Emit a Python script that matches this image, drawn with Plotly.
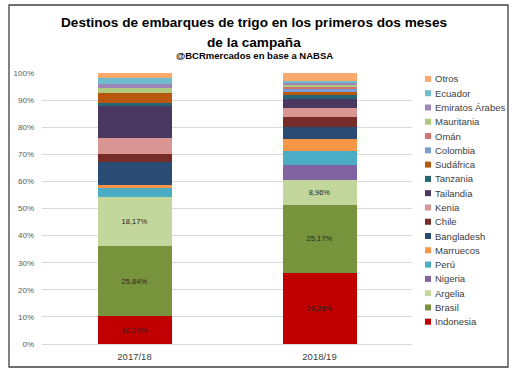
import plotly.graph_objects as go

# ---------------- data ----------------
categories = ["2017/18", "2018/19"]
countries = ["Indonesia", "Brasil", "Argelia", "Nigeria", "Perú", "Marruecos",
             "Bangladesh", "Chile", "Kenia", "Tailandia", "Tanzania", "Sudáfrica",
             "Colombia", "Omán", "Mauritania", "Emiratos Árabes", "Ecuador", "Otros"]
share_2017 = [10.29, 25.84, 18.17, 0.0, 3.1, 1.2, 8.4, 3.0, 6.2, 11.8, 1.1, 3.4,
              0.0, 0.0, 1.9, 1.4, 2.5, 1.7]
share_2018 = [26.28, 25.17, 8.96, 5.8, 4.9, 4.5, 4.5, 3.8, 3.3, 3.2, 1.5, 1.1,
              1.0, 1.0, 0.9, 0.7, 0.6, 2.8]
labelled = ["Indonesia", "Brasil", "Argelia"]
y_ticks = [0, 10, 20, 30, 40, 50, 60, 70, 80, 90, 100]
y_tick_labels = ["0%", "10%", "20%", "30%", "40%", "50%", "60%", "70%", "80%", "90%", "100%"]

# ---------------- styles ----------------
colors = ["#C00000", "#77933C", "#C3D69B", "#8064A2", "#4BACC6", "#F79646",
          "#2A4B74", "#772C2A", "#D99694", "#4A3860", "#246476", "#B9570E",
          "#7A9ED0", "#D47270", "#AFC97E", "#9D86B8", "#6FBBD0", "#F9A96B"]
FONT = "Liberation Sans, Arial, sans-serif"
TXT = "#404040"

W, H = 516, 373
ML, MR, MT, MB = 42, 104, 73, 29
PW, PH = W - ML - MR, H - MT - MB


def px_x(x):
    return (x - ML) / PW


def px_y(y):
    return (H - MB - y) / PH


def fmt(v):
    return f"{v:.2f}%".replace(".", ",")


fig = go.Figure()
for i, name in enumerate(countries):
    vals = [share_2017[i], share_2018[i]]
    text = [fmt(v) if name in labelled else "" for v in vals]
    fig.add_trace(go.Bar(
        x=categories, y=vals, name=name,
        marker=dict(color=colors[i], line=dict(width=0)),
        text=text, textposition="inside", insidetextanchor="middle",
        textangle=0, constraintext="none",
        textfont=dict(family=FONT, size=7.5, color="#262626"),
        showlegend=False, hoverinfo="name+y",
    ))

annotations = []
shapes = []

# title & subtitle
cx = px_x(254)
annotations.append(dict(text="<b>Destinos de embarques de trigo en los primeros dos meses</b>",
                        x=cx, y=px_y(22), xref="paper", yref="paper", showarrow=False,
                        xanchor="center", yanchor="middle",
                        font=dict(family=FONT, size=13.6, color="#000000")))
annotations.append(dict(text="<b>de la campaña</b>",
                        x=cx, y=px_y(42), xref="paper", yref="paper", showarrow=False,
                        xanchor="center", yanchor="middle",
                        font=dict(family=FONT, size=13.6, color="#000000")))
annotations.append(dict(text="<b>@BCRmercados en base a NABSA</b>",
                        x=cx, y=px_y(55.5), xref="paper", yref="paper", showarrow=False,
                        xanchor="center", yanchor="middle",
                        font=dict(family=FONT, size=9.5, color="#000000")))

# manual legend (top: Otros ... bottom: Indonesia)
y_bottom = 321.7
step = 14.28
for k, name in enumerate(countries):
    py = y_bottom - k * step
    annotations.append(dict(text=name, x=px_x(433), y=px_y(py), xref="paper", yref="paper",
                            showarrow=False, xanchor="left", yanchor="middle",
                            font=dict(family=FONT, size=9.5, color=TXT)))
    shapes.append(dict(type="rect", xref="paper", yref="paper",
                       xsizemode="pixel", ysizemode="pixel",
                       xanchor=px_x(428), yanchor=px_y(py),
                       x0=-3, x1=3, y0=-3, y1=3,
                       fillcolor=colors[k], line=dict(width=0)))

# outer chart border
shapes.append(dict(type="rect", xref="paper", yref="paper",
                   x0=px_x(9), x1=px_x(508), y0=px_y(367), y1=px_y(5),
                   line=dict(color="#404040", width=1.3), fillcolor="rgba(0,0,0,0)"))

fig.update_layout(
    width=W, height=H,
    margin=dict(l=ML, r=MR, t=MT, b=MB, pad=0),
    barmode="stack", bargap=0.6,
    plot_bgcolor="white", paper_bgcolor="white",
    annotations=annotations, shapes=shapes,
    showlegend=False,
    xaxis=dict(showgrid=False, showline=False, zeroline=False, ticks="",
               tickfont=dict(family=FONT, size=9.5, color=TXT),
               ticklabelstandoff=5),
    yaxis=dict(range=[0, 100], tickmode="array", tickvals=y_ticks, ticktext=y_tick_labels,
               showgrid=True, gridcolor="#D9D9D9", gridwidth=1,
               zeroline=True, zerolinecolor="#D9D9D9", zerolinewidth=1,
               showline=False, ticks="",
               tickfont=dict(family=FONT, size=8, color="#595959"),
               ticklabelstandoff=7),
)

fig.write_html("out.html",
               config={"displayModeBar": False},
               post_script="document.body.style.margin='0';document.body.style.padding='0';")
